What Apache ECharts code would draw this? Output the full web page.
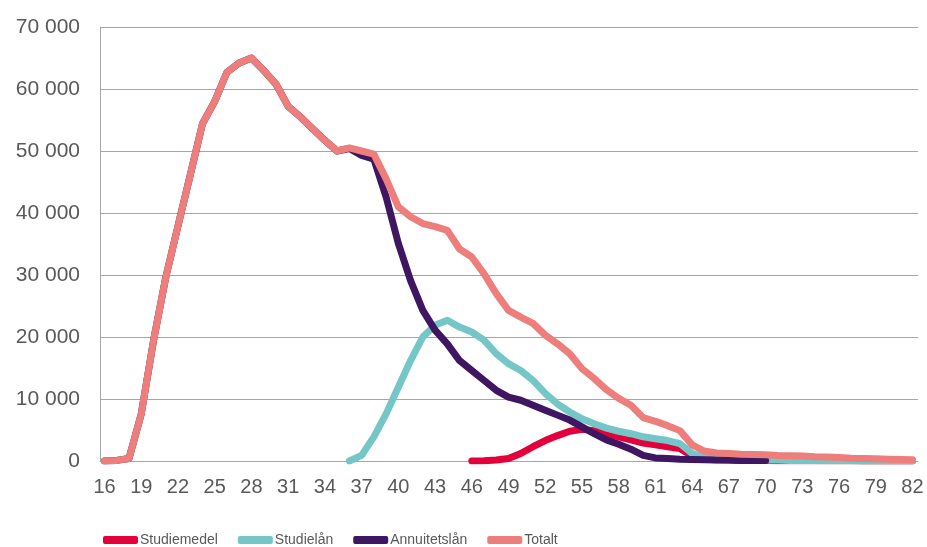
<!DOCTYPE html>
<html>
<head>
<meta charset="utf-8">
<script src="https://cdn.jsdelivr.net/npm/echarts@6/dist/echarts.min.js"></script>
<style>
  html, body { margin: 0; padding: 0; background: #fff; }
  #chart { width: 927px; height: 547px; }
</style>
</head>
<body>
<div id="chart"></div>
<script>
// ålder 16..82
const ages = []
for (let a = 16; a <= 82; a++) ages.push(a)
const tickAges = [16, 19, 22, 25, 28, 31, 34, 37, 40, 43, 46, 49, 52, 55, 58, 61, 64, 67, 70, 73, 76, 79, 82]

const studiemedel = [
  null, null, null, null, null, null, null, null, null, null, // 16-25
  null, null, null, null, null, null, null, null, null, null, // 26-35
  null, null, null, null, null, null, null, null, null, null, // 36-45
  0, 50, 150, 400, 1200, 2300, 3300, 4100, 4800, 5100,       // 46-55
  4900, 4500, 3900, 3400, 2900, 2600, 2300, 2000, 800, 300,  // 56-65
  200, 150, 100, 100, 100, 50, 50, 50, 50, 50,               // 66-75
  50, 50, 0, 0, 0, 0, 0                                      // 76-82
]
const studielan = [
  null, null, null, null, null, null, null, null, null, null, // 16-25
  null, null, null, null, null, null, null, null, null, null, // 26-35
  0, 900, 3900, 7600, 11900, 16200, 20000, 21900, 22700, 21600, // 36-45
  20800, 19500, 17300, 15700, 14600, 13000, 10900, 9200, 7900, 6800, // 46-55
  6000, 5300, 4800, 4400, 3900, 3600, 3300, 2800, 1200, 600,  // 56-65
  400, 300, 250, 200, 150, 150, 100, 100, 100, 50,           // 66-75
  50, 50, 0, 0, 0, 0, 0                                      // 76-82
]
const annuitetslan = [
  0, 100, 400, 7600, 19400, 29600, 37900, 46100, 54400, 58000, // 16-25
  62700, 64200, 65000, 63000, 60800, 57200, 55500, 53600, 51700, 50000, // 26-35
  50400, 49300, 48700, 42600, 35100, 29100, 24300, 21100, 18900, 16200, // 36-45
  14600, 13000, 11400, 10300, 9800, 9000, 8200, 7400, 6600, 5500, // 46-55
  4400, 3400, 2700, 1900, 900, 500, 400, 300, 250, 200,      // 56-65
  150, 150, 100, 100, 100, null, null, null, null, null,     // 66-75
  null, null, null, null, null, null, null                   // 76-82
]
const totalt = [
  0, 100, 400, 7600, 19400, 29600, 37900, 46100, 54400, 58000, // 16-25
  62700, 64200, 65000, 63000, 60800, 57200, 55500, 53600, 51700, 50000, // 26-35
  50500, 50000, 49500, 45500, 41000, 39400, 38300, 37800, 37200, 34200, // 36-45
  32900, 30200, 27000, 24300, 23200, 22200, 20300, 18900, 17300, 14900, // 46-55
  13300, 11500, 10100, 9000, 7000, 6400, 5700, 4900, 2600, 1600, // 56-65
  1300, 1200, 1100, 1050, 1000, 900, 850, 800, 700, 650,     // 66-75
  550, 450, 400, 350, 300, 250, 200                          // 76-82
]

const seriesNames = ['Studiemedel', 'Studielån', 'Annuitetslån', 'Totalt']
const seriesValues = [studiemedel, studielan, annuitetslan, totalt]
const colors = ['#E4003A', '#74C6C7', '#3E1661', '#EE7E7B']

const font = "'Liberation Sans', Arial, sans-serif"

const chart = echarts.init(document.getElementById('chart'))
chart.setOption({
  animation: false,
  color: colors,
  grid: { left: 100, right: 9, top: 27, bottom: 86 },
  legend: {
    left: 103,
    bottom: 0,
    padding: 0,
    itemWidth: 35,
    itemHeight: 8,
    itemGap: 20,
    icon: 'roundRect',
    data: seriesNames,
    textStyle: {
      fontFamily: font,
      fontSize: 14,
      color: '#595959',
      padding: [0, 0, 0, -3]
    }
  },
  xAxis: {
    type: 'value',
    min: 15.63,
    max: 82.45,
    splitLine: { show: false },
    axisTick: { show: false },
    axisLine: { show: true, lineStyle: { color: '#a6a6a6', width: 1 } },
    axisLabel: {
      customValues: tickAges,
      margin: 16,
      fontFamily: font,
      fontSize: 20,
      color: '#595959'
    }
  },
  yAxis: {
    type: 'value',
    min: 0,
    max: 70000,
    interval: 10000,
    axisLine: { show: true, lineStyle: { color: '#a6a6a6', width: 1 } },
    axisTick: { show: false },
    splitLine: { lineStyle: { color: '#a6a6a6', width: 1 } },
    axisLabel: {
      margin: 20,
      fontFamily: font,
      fontSize: 21,
      color: '#595959',
      formatter: v => (v === 0 ? '0' : v / 1000 + ' 000')
    }
  },
  series: seriesNames.map((name, i) => ({
    name: name,
    type: 'line',
    symbol: 'none',
    data: ages.map((a, j) => [a, seriesValues[i][j]]),
    lineStyle: { width: 7, cap: 'round', join: 'round' }
  }))
})
</script>
</body>
</html>
